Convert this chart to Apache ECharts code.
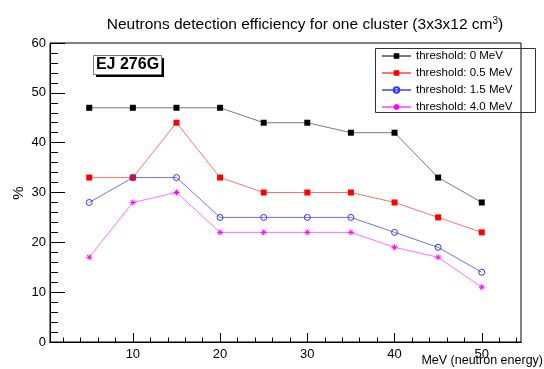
<!DOCTYPE html>
<html>
<head>
<meta charset="utf-8">
<script src="https://cdn.jsdelivr.net/npm/echarts@6/dist/echarts.min.js"></script>
<style>
  html, body { margin: 0; padding: 0; background: #fff; }
  #chart { width: 544px; height: 369px; }
</style>
</head>
<body>
<div id="chart"></div>
<script>
const energies = [5, 10, 15, 20, 25, 30, 35, 40, 45, 50]
const thr0 = [47, 47, 47, 47, 44, 44, 42, 42, 33, 28]
const thr05 = [33, 33, 44, 33, 30, 30, 30, 28, 25, 22]
const thr15 = [28, 33, 33, 25, 25, 25, 25, 22, 19, 14]
const thr40 = [17, 28, 30, 22, 22, 22, 22, 19, 17, 11]
const seriesNames = ['threshold: 0 MeV', 'threshold: 0.5 MeV', 'threshold: 1.5 MeV', 'threshold: 4.0 MeV']
const xMajorTicks = [10, 20, 30, 40, 50]
const xMinorTicks = [2, 4, 6, 8, 12, 14, 16, 18, 22, 24, 26, 28, 32, 34, 36, 38, 42, 44, 46, 48, 52, 54]

const FONT = 'Liberation Sans'
const STAR = 'path://M0,5L10,5M5,0L5,10M1.5,1.5L8.5,8.5M1.5,8.5L8.5,1.5'

const chart = echarts.init(document.getElementById('chart'))

function pts(values) {
  return energies.map((e, i) => [e, values[i]])
}

function makeSeries(name, values, color, lineColor, symbol, filled) {
  return {
    name: name,
    type: 'line',
    xAxisIndex: 0,
    data: pts(values),
    symbol: symbol,
    symbolSize: 6,
    showSymbol: true,
    animation: false,
    lineStyle: { color: lineColor, width: 1 },
    itemStyle: filled
      ? { color: color, borderWidth: 0 }
      : { color: 'rgba(0,0,0,0)', borderColor: color, borderWidth: 1 },
    emphasis: { disabled: true }
  }
}

const xBase = {
  type: 'value',
  min: 0.5,
  max: 54.5,
  splitLine: { show: false },
  axisLine: { show: true, onZero: false, lineStyle: { color: '#000', width: 1 } }
}

const option = {
  backgroundColor: '#fff',
  animation: false,
  textStyle: { fontFamily: FONT },
  title: {
    text: 'Neutrons detection efficiency for one cluster (3x3x12 cm{sup|3})',
    left: 300,
    textAlign: 'center',
    top: 11,
    textStyle: {
      fontFamily: FONT,
      fontSize: 15.5,
      fontWeight: 'normal',
      color: '#000',
      rich: { sup: { fontSize: 10, verticalAlign: 'top', padding: [0, 0, 8, 0], fontFamily: FONT } }
    }
  },
  grid: {
    left: 50, top: 43, right: 23, bottom: 27,
    show: true, borderColor: '#000', borderWidth: 1, backgroundColor: '#fff'
  },
  legend: {
    orient: 'vertical',
    left: 381,
    top: 50,
    padding: 0,
    itemWidth: 29,
    itemHeight: 7,
    itemGap: 5,
    textStyle: { fontFamily: FONT, fontSize: 11.5, color: '#000' },
    data: seriesNames
  },
  xAxis: [
    Object.assign({}, xBase, {
      axisTick: { show: true, inside: true, length: 9, customValues: xMajorTicks, lineStyle: { color: '#000' } },
      axisLabel: { customValues: xMajorTicks, color: '#000', fontFamily: FONT, fontSize: 13, margin: 6 }
    }),
    Object.assign({}, xBase, {
      position: 'bottom',
      axisTick: { show: true, inside: true, length: 4.5, customValues: xMinorTicks, lineStyle: { color: '#000' } },
      axisLabel: { show: false }
    })
  ],
  yAxis: {
    type: 'value',
    min: 0,
    max: 60,
    interval: 10,
    splitLine: { show: false },
    axisLine: { show: true, lineStyle: { color: '#000', width: 1 } },
    axisTick: { show: true, inside: true, length: 15, lineStyle: { color: '#000' } },
    minorTick: { show: true, splitNumber: 5, length: 8, lineStyle: { color: '#000' } },
    axisLabel: { color: '#000', fontFamily: FONT, fontSize: 13, margin: 4 }
  },
  series: [
    makeSeries(seriesNames[0], thr0, '#000', '#7a7a7a', 'rect', true),
    makeSeries(seriesNames[1], thr05, '#ff0000', '#ff7070', 'rect', true),
    makeSeries(seriesNames[2], thr15, '#3333ff', '#7070ff', 'circle', false),
    makeSeries(seriesNames[3], thr40, '#ff00ff', '#ff70ff', STAR, false)
  ],
  graphic: [
    // legend frame
    { type: 'rect', shape: { x: 375.5, y: 48.5, width: 160, height: 64 }, style: { fill: 'none', stroke: '#333', lineWidth: 1 }, z: 1 },
    // label box with shadow
    { type: 'rect', shape: { x: 96, y: 58, width: 68, height: 19 }, style: { fill: '#000' }, z: 10 },
    { type: 'rect', shape: { x: 93.5, y: 55.5, width: 68, height: 19 }, style: { fill: '#fff', stroke: '#777', lineWidth: 1 }, z: 11 },
    { type: 'text', x: 127.5, y: 65, style: { text: 'EJ 276G', fontFamily: FONT, fontWeight: 'bold', fontSize: 16, fill: '#000', align: 'center', verticalAlign: 'middle' }, z: 12 },
    // y axis title
    { type: 'text', x: 19, y: 193, rotation: Math.PI / 2, style: { text: '%', fontFamily: FONT, fontSize: 15, fill: '#000', align: 'center', verticalAlign: 'middle' }, z: 12 },
    // x axis title
    { type: 'text', right: 1, top: 354, style: { text: 'MeV (neutron energy)', fontFamily: FONT, fontSize: 12.5, fill: '#000' }, z: 12 }
  ]
}

chart.setOption(option)
</script>
</body>
</html>
